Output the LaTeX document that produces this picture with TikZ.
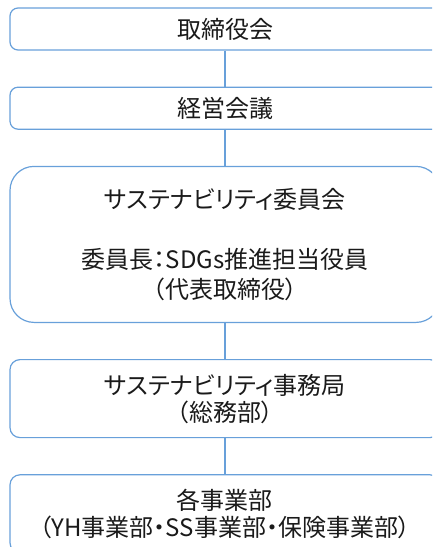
\documentclass[tikz,border=0pt]{standalone}
\usepackage{fontspec}
\newfontfamily\jpfont[RawFeature=+palt]{Noto Sans CJK JP}
\usetikzlibrary{positioning}
\definecolor{lineblue}{RGB}{104,160,218}
\definecolor{textgray}{RGB}{26,26,26}

\begin{document}
\begin{tikzpicture}[
		basic/.style  = {draw=lineblue, line width=1.2pt, rectangle, minimum width=430pt, align=center, text=textgray, font=\jpfont\fontsize{24}{27}\selectfont, inner sep=0pt},
		small/.style  = {basic, rounded corners=8pt, minimum height=42pt},
		big/.style    = {basic, rounded corners=24pt, minimum height=156pt},
		mid/.style    = {basic, rounded corners=10pt, minimum height=78pt},
		conn/.style   = {draw=lineblue, line width=1.2pt},
		node distance = 36pt]

		% page frame
		\useasboundingbox (0,0) rectangle (432pt,-547pt);
		\clip (0,0) rectangle (432pt,-547pt);

		% boxes, top to bottom
		\node[small] at (225pt,-29pt) (b1) {取締役会};
		\node[small, below=of b1] (b2) {経営会議};
		\node[big, below=of b2] (b3) {サステナビリティ委員会\\[33pt]委員長：SDGs推進担当役員\\[3pt]（代表取締役）};
		\node[mid, below=of b3] (b4) {サステナビリティ事務局\\（総務部）};
		\node[mid, below=of b4] (b5) {各事業部\\（YH事業部・SS事業部・保険事業部）};

		% lines between the boxes
		\foreach \a/\b in {b1/b2, b2/b3, b3/b4, b4/b5}
		\draw[conn] (\a) -- (\b);

\end{tikzpicture}
\end{document}
